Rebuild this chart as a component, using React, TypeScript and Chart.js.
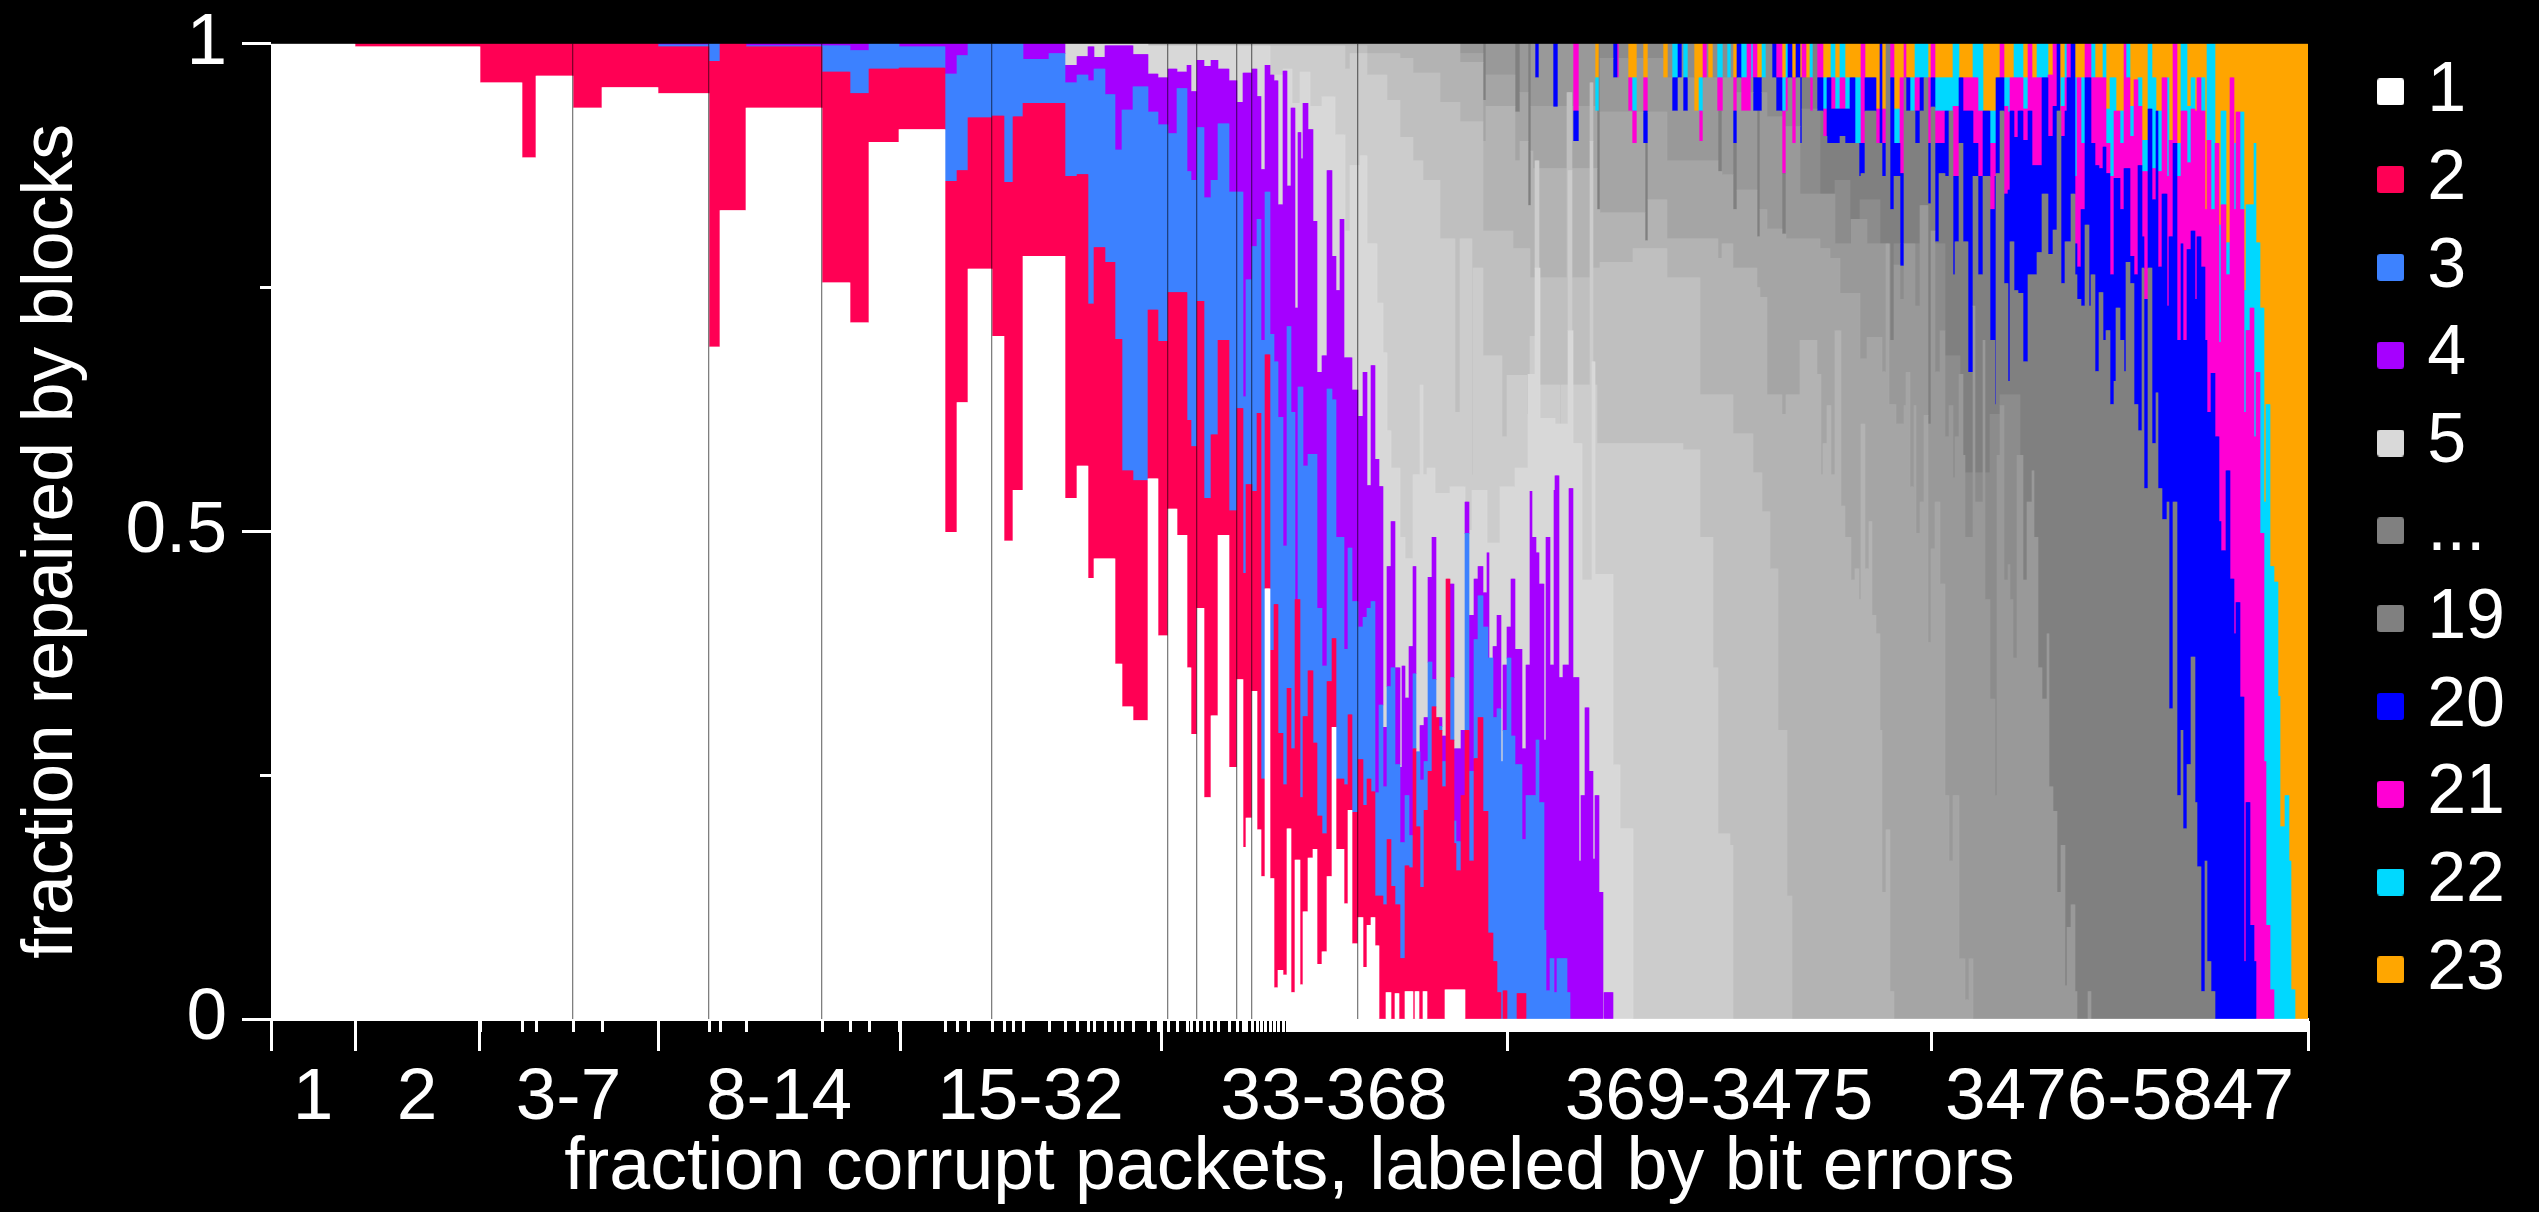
import React, { useEffect, useRef } from "react";
import { Chart, registerables } from "chart.js";

Chart.register(...registerables);

// Each list below is a boundary of the stack, read from the picture as run pairs:
// column where the run ends, height of the boundary in thousandths of the y axis.
const top1 = [355,1000,480,997,522,960,536,883,573,967,602,934,658,955,709,949,720,689,746,829,822,934,850,755,869,714,899,899,945,912,957,499,968,632,992,769,1004,700,1013,490,1023,542,1065,782,1077,534,1088,567,1094,452,1115,472,1122,364,1133,320,1148,306,1158,554,1168,393,1177,523,1187,496,1191,360,1197,292,1204,421,1211,227,1218,311,1229,496,1237,258,1243,348,1246,176,1252,206,1257,336,1261,194,1265,146,1270,441,1274,144,1278,32,1283,50,1287,45,1291,195,1295,27,1300,163,1303,35,1308,110,1313,165,1317,174,1322,56,1327,69,1332,146,1336,299,1344,174,1348,118,1352,214,1358,77,1363,104,1367,53,1371,96,1375,104,1379,75,1386,0,1391,27,1395,0,1399,26,1405,0,1413,28,1415,0,1419,28,1423,0,1427,28,1445,0,1465,30,2308,0];
const top2 = [658,1000,709,997,720,982,746,1000,822,997,850,971,869,949,899,974,945,975,957,859,968,870,992,924,1004,926,1013,858,1023,925,1065,939,1077,864,1088,866,1094,733,1105,791,1115,776,1122,697,1133,562,1148,552,1158,727,1168,695,1187,745,1191,614,1197,587,1204,736,1211,534,1218,599,1229,696,1237,521,1243,626,1246,457,1252,548,1257,541,1261,621,1265,246,1270,681,1274,378,1278,425,1283,293,1287,240,1291,339,1295,277,1300,430,1303,227,1308,310,1313,357,1317,283,1322,208,1327,190,1332,346,1336,390,1344,246,1348,240,1352,312,1358,212,1363,266,1367,219,1371,246,1375,233,1383,126,1387,117,1391,184,1395,136,1400,117,1405,62,1409,157,1413,155,1416,277,1420,197,1424,135,1428,214,1432,254,1436,320,1439,309,1442,296,1446,238,1450,451,1454,286,1456,180,1461,152,1465,229,1469,296,1474,162,1478,267,1483,309,1488,213,1493,88,1497,59,1501,27,1503,0,1507,29,1517,0,1526,26,2308,0];
const top3 = [658,1000,709,999,720,1000,850,998,869,993,899,1000,945,997,957,969,968,988,1023,1000,1049,984,1065,990,1077,960,1088,968,1094,962,1105,974,1115,948,1122,891,1133,932,1148,956,1158,930,1168,917,1177,908,1187,954,1191,869,1197,860,1204,914,1211,842,1218,860,1229,918,1237,848,1243,848,1246,638,1252,758,1257,792,1261,820,1265,696,1270,848,1274,702,1278,674,1283,617,1287,485,1291,710,1295,622,1298,395,1303,648,1308,567,1317,579,1322,421,1327,362,1332,646,1336,635,1344,494,1348,379,1352,483,1358,428,1363,402,1367,412,1371,421,1375,428,1379,232,1383,322,1387,238,1391,341,1395,360,1400,261,1405,181,1409,229,1413,188,1416,354,1420,274,1424,245,1428,264,1432,366,1436,348,1442,300,1446,264,1450,451,1454,350,1456,203,1461,182,1465,229,1469,498,1474,254,1478,389,1483,434,1488,402,1493,370,1497,309,1501,318,1503,264,1507,296,1511,370,1515,290,1522,261,1526,184,1536,229,1539,286,1544,222,1546,91,1550,29,1554,62,1557,27,1567,62,1570,27,2308,0];
const top4 = [992,1000,1004,988,1065,1000,1077,978,1088,987,1094,997,1105,986,1133,998,1148,989,1158,969,1168,965,1177,974,1187,971,1191,978,1197,951,1204,983,1211,977,1218,983,1229,974,1237,962,1243,940,1252,970,1257,974,1261,946,1265,871,1270,978,1274,968,1278,962,1283,835,1287,972,1291,854,1295,934,1298,729,1301,909,1303,882,1308,939,1313,912,1317,818,1322,663,1327,680,1332,870,1336,782,1340,747,1344,820,1352,678,1358,645,1363,618,1367,663,1371,547,1375,670,1379,574,1383,546,1387,299,1391,464,1395,510,1400,360,1402,258,1405,362,1409,329,1413,382,1416,464,1420,264,1424,301,1428,309,1432,453,1436,494,1442,309,1446,290,1450,451,1454,446,1461,277,1465,296,1469,530,1474,414,1478,451,1483,464,1487,437,1489,478,1493,370,1497,382,1501,414,1503,264,1507,363,1511,402,1515,451,1522,379,1526,277,1530,363,1532,541,1536,494,1539,478,1544,446,1546,286,1550,494,1554,363,1555,542,1559,557,1563,350,1569,363,1573,544,1579,350,1581,162,1585,229,1589,319,1593,254,1595,164,1599,229,1603,130,1604,0,1613,27,2308,0];
const top5 = [1148,1000,1270,998,1283,968,1292,974,1300,939,1310,971,1322,936,1335,946,1345,907,1350,808,1360,875,1367,885,1377,795,1383,734,1387,683,1391,603,1400,565,1405,494,1413,472,1420,558,1423,650,1427,558,1435,565,1450,539,1465,546,1472,501,1487,542,1500,488,1515,546,1528,565,1535,661,1540,770,1555,616,1568,610,1573,706,1582,590,1592,450,1595,674,1613,456,1620,261,1633,195,2308,0];
const top7 = [1345,998,1350,974,1367,990,1387,968,1400,942,1413,904,1423,880,1440,860,1455,800,1460,622,1472,800,1473,558,1483,770,1502,680,1507,597,1527,660,1530,620,1535,700,1539,880,1540,700,1560,650,1561,603,1568,650,1572,870,1590,650,1593,900,1597,650,1627,590,1683,590,1700,584,1713,494,1718,360,1730,190,1733,178,2308,0];
const top9 = [1367,998,1400,990,1413,985,1440,970,1460,940,1483,920,1513,808,1530,790,1567,760,1572,950,1590,760,1593,960,1600,770,1633,776,1667,790,1700,760,1733,640,1753,600,1762,560,1770,520,1778,462,1787,296,1792,126,2308,0];
const top11 = [1460,1000,1483,981,1486,900,1515,936,1520,880,1528,900,1531,834,1533,890,1597,872,1600,830,1645,827,1648,798,1667,840,1718,800,1722,780,1733,795,1737,770,1757,770,1760,750,1767,740,1782,640,1786,620,1800,640,1817,696,1821,661,1823,558,1827,590,1831,629,1835,558,1841,706,1845,526,1851,494,1855,450,1859,462,1861,430,1865,610,1869,462,1872,510,1876,414,1880,395,1882,296,1886,130,1890,194,1894,28,2308,0];
const top13 = [1460,1000,1483,990,1486,942,1515,968,1520,930,1528,950,1531,834,1597,936,1600,830,1645,930,1648,798,1667,930,1718,880,1722,869,1733,866,1737,830,1757,850,1760,802,1767,830,1782,810,1786,805,1800,800,1820,800,1830,790,1840,780,1860,744,1867,677,1882,699,1886,664,1889,795,1896,630,1904,610,1906,629,1910,663,1914,546,1916,629,1920,498,1924,530,1928,619,1931,386,1935,482,1940,530,1945,446,1949,229,1953,162,1959,229,1965,62,1969,20,1973,62,2308,0];
const top15 = [1483,1000,1486,942,1515,1000,1520,930,1528,1000,1531,834,1597,1000,1600,830,1645,985,1648,798,1667,985,1718,965,1722,869,1733,965,1737,830,1757,950,1760,802,1767,950,1782,925,1786,805,1800,915,1835,846,1851,795,1867,820,1890,795,1894,696,1900,773,1904,738,1915,795,1920,731,1928,834,1931,610,1935,808,1940,664,1945,706,1949,597,1953,629,1955,555,1959,597,1963,661,1965,578,1973,494,1975,731,1983,530,1985,696,1990,430,1995,328,1997,229,2000,578,2004,629,2008,450,2010,466,2013,430,2017,370,2023,578,2027,450,2032,530,2034,562,2038,494,2042,360,2047,328,2049,395,2053,238,2057,213,2061,130,2065,178,2067,34,2071,94,2075,117,2077,28,2088,0,2091,28,2308,0];
const top17 = [1483,1000,1486,942,1515,1000,1520,930,1528,1000,1531,834,1597,1000,1600,830,1645,1000,1648,798,1718,1000,1722,869,1733,1000,1737,830,1757,1000,1760,802,1782,1000,1786,805,1800,1000,1820,933,1835,840,1850,860,1860,795,1880,840,1890,795,1894,696,1920,795,1928,834,1931,610,1935,808,1945,795,1960,680,1990,560,2000,620,2020,640,2308,0];
const top19 = [1535,1000,1539,965,1553,1000,1558,935,1573,1000,1579,900,1595,1000,1599,931,1613,1000,1617,965,1619,965,1628,1000,1632,931,1637,898,1643,1000,1648,898,1663,1000,1668,965,1672,1000,1678,931,1682,965,1683,1000,1688,931,1694,1000,1699,931,1703,900,1707,965,1708,1000,1713,965,1717,1000,1723,931,1727,1000,1731,965,1733,1000,1737,898,1741,965,1747,931,1751,931,1753,965,1757,931,1762,931,1766,965,1772,1000,1776,965,1782,931,1786,867,1788,931,1792,965,1796,898,1800,965,1802,898,1806,965,1810,965,1813,931,1817,1000,1823,931,1827,905,1831,898,1835,898,1840,898,1845,905,1850,898,1855,898,1859,898,1861,864,1865,867,1876,931,1880,898,1882,898,1886,864,1890,1000,1894,830,1900,864,1904,772,1906,965,1910,931,1915,931,1920,898,1924,931,1928,965,1931,836,1935,935,1939,797,1945,867,1949,864,1953,931,1955,763,1959,797,1963,898,1968,797,1973,663,1978,864,1983,763,1985,864,1990,864,1995,696,1996,630,2000,867,2004,931,2008,754,2010,654,2014,797,2018,747,2023,744,2028,674,2032,763,2037,763,2042,786,2048,846,2053,784,2057,809,2061,931,2065,754,2067,797,2071,797,2075,846,2077,763,2081,738,2085,731,2089,814,2091,731,2095,763,2099,664,2103,745,2106,696,2110,706,2114,630,2116,654,2120,729,2124,696,2126,664,2130,776,2134,754,2138,630,2142,603,2144,770,2148,544,2152,770,2156,590,2158,642,2162,544,2167,512,2169,530,2173,318,2177,530,2181,229,2183,296,2187,195,2191,261,2195,371,2197,222,2201,156,2205,28,2207,162,2211,59,2215,28,2308,0];
const top20 = [1535,0,1539,1000,1553,0,1558,1000,1573,0,1579,931,1613,0,1617,1000,1619,965,1643,0,1648,931,1672,0,1678,965,1682,1000,1683,0,1688,965,1733,0,1737,931,1741,1000,1753,0,1757,965,1762,965,1772,0,1776,1000,1782,965,1788,0,1792,1000,1796,0,1800,1000,1802,965,1817,0,1823,965,1827,0,1831,965,1835,933,1840,933,1845,933,1850,933,1855,965,1859,0,1861,898,1865,898,1876,965,1880,0,1882,1000,1886,898,1890,0,1894,965,1900,898,1904,867,1906,0,1910,965,1915,0,1920,931,1924,965,1928,0,1931,898,1935,965,1939,898,1945,898,1949,931,1953,0,1955,864,1959,864,1963,965,1968,931,1973,931,1978,898,1983,864,1985,931,1990,931,1995,830,1996,864,2000,965,2004,965,2008,846,2010,850,2014,931,2018,904,2023,931,2028,901,2032,931,2037,875,2042,875,2048,965,2053,905,2057,936,2060,1000,2061,0,2065,905,2067,931,2071,965,2075,1000,2077,795,2081,771,2085,830,2089,965,2091,965,2095,898,2099,875,2103,872,2106,894,2110,867,2114,763,2116,862,2120,862,2124,830,2126,872,2130,872,2134,782,2138,763,2142,875,2144,802,2148,738,2152,933,2156,840,2158,931,2162,771,2167,846,2169,731,2173,802,2177,898,2181,696,2183,795,2187,696,2191,789,2195,808,2197,738,2201,802,2205,771,2207,696,2211,622,2215,662,2219,597,2221,510,2226,480,2230,562,2234,451,2236,395,2240,427,2244,330,2246,59,2250,222,2254,96,2256,59,2308,0];
const top21 = [1573,0,1579,1000,1617,0,1619,1000,1628,0,1632,965,1637,931,1643,0,1648,965,1699,0,1703,931,1707,1000,1717,0,1723,965,1733,0,1737,965,1741,0,1747,965,1751,1000,1753,0,1757,1000,1776,0,1782,1000,1786,931,1788,965,1792,0,1796,965,1802,0,1806,1000,1810,0,1813,965,1817,0,1823,1000,1827,933,1831,0,1835,965,1840,933,1845,965,1850,933,1861,0,1865,1000,1876,0,1880,933,1882,0,1886,933,1890,0,1894,1000,1900,898,1904,965,1906,1000,1915,0,1920,965,1928,0,1931,965,1935,1000,1939,931,1945,931,1949,931,1953,0,1959,936,1963,0,1968,965,1973,965,1978,965,1983,931,1990,931,1995,898,1996,898,2000,0,2004,1000,2008,936,2010,930,2014,965,2018,965,2023,965,2028,933,2032,1000,2037,965,2042,965,2048,965,2053,968,2057,1000,2061,0,2065,936,2067,965,2071,1000,2075,0,2077,864,2081,965,2085,898,2089,1000,2091,1000,2095,965,2099,965,2103,965,2106,965,2110,898,2114,864,2116,931,2120,931,2124,898,2126,1000,2130,965,2134,905,2138,963,2142,936,2144,869,2148,869,2152,933,2156,872,2158,931,2162,869,2167,965,2169,864,2173,901,2177,1000,2181,864,2183,931,2187,931,2191,878,2195,933,2197,931,2201,965,2205,931,2207,830,2211,901,2215,830,2219,898,2221,694,2226,835,2230,763,2234,965,2236,830,2240,930,2244,830,2246,622,2250,706,2254,729,2256,597,2260,663,2264,498,2266,264,2270,96,2274,30,2308,0];
const top22 = [1595,0,1599,965,1632,0,1637,965,1663,0,1668,965,1672,0,1678,1000,1683,0,1688,1000,1694,0,1699,931,1703,965,1708,0,1713,965,1717,0,1723,1000,1727,0,1731,1000,1733,0,1737,965,1741,0,1747,1000,1751,0,1753,1000,1757,0,1762,965,1766,1000,1782,0,1786,965,1788,1000,1792,0,1796,965,1806,0,1810,965,1813,1000,1823,0,1827,965,1831,965,1835,1000,1840,965,1845,1000,1850,965,1855,965,1859,965,1861,965,1865,0,1876,965,1880,933,1882,0,1886,933,1894,0,1900,933,1904,965,1906,0,1910,965,1915,965,1920,1000,1924,1000,1928,1000,1931,965,1935,0,1939,965,1945,965,1949,965,1953,965,1959,1000,1963,965,1968,965,1973,965,1978,1000,1983,1000,1985,931,1990,931,1995,931,1996,931,2000,965,2004,0,2008,965,2010,965,2014,965,2018,1000,2023,1000,2028,965,2032,0,2037,965,2042,1000,2048,1000,2053,968,2061,0,2065,965,2067,1000,2075,0,2077,965,2081,965,2085,965,2091,0,2095,1000,2099,965,2103,965,2106,1000,2110,933,2114,965,2116,965,2120,931,2124,931,2126,0,2130,1000,2134,936,2138,963,2142,965,2144,901,2148,901,2152,1000,2156,965,2158,931,2162,931,2167,965,2169,965,2173,901,2177,0,2181,898,2183,1000,2187,1000,2191,936,2195,965,2197,931,2201,965,2205,965,2207,830,2211,1000,2215,1000,2219,898,2221,814,2226,931,2230,796,2234,965,2236,898,2240,930,2244,930,2246,747,2250,835,2254,835,2256,898,2260,796,2264,729,2266,530,2270,630,2274,464,2278,448,2280,331,2285,197,2289,229,2291,162,2295,30,2308,0];
const top23 = [2308,1000];

const seriesLabels = ["1","2","3","4","5","7","9","11","13","15","17","19","20","21","22","23"];
const seriesColors = ["#ffffff","#ff0055","#3d82ff","#a600ff","#d9d9d9","#cccccc","#bfbfbf","#b3b3b3","#a6a6a6","#999999","#8c8c8c","#808080","#0000ff","#ff00d4","#00d9ff","#ffa600"];
const legendTexts = ["1","2","3","4","5","...","19","20","21","22","23"];
const legendColors = ["#ffffff","#ff0055","#3d82ff","#a600ff","#d9d9d9","#808080","#808080","#0000ff","#ff00d4","#00d9ff","#ffa600"];

const majorTicks = [271,355,479,658,900,1161,1507,1931,2308];
const groupLabels = ["1","2","3-7","8-14","15-32","33-368","369-3475","3476-5847"];
const groupBoundaries = [573,709,822,992,1168,1197,1237,1252,1358];
const yLabelTicks = [0,0.5,1];
const yMinorTicks = [0.25,0.75];

const FONT = "'Liberation Sans', Arial, sans-serif";
const WHITE = "#ffffff";

const curves = [top1,top2,top3,top4,top5,top7,top9,top11,top13,top15,top17,top19,top20,top21,top22,top23];
const FIRST = 271, LAST = 2308;
const DENSE_TICKS_FROM = 1290;

function decode(runs: number[]): number[] {
  const out: number[] = [];
  let r = 0;
  for (let c = FIRST; c < LAST; c++) {
    while (r + 2 < runs.length && c >= runs[r]) r += 2;
    out.push(runs[r + 1]);
  }
  return out;
}

function buildValues(): (number | null)[][] {
  const d = curves.map(decode);
  const iGrayTop = 11;
  const n = d[0].length;
  for (let c = 0; c < n; c++) {
    for (let i = 1; i < iGrayTop; i++) d[i][c] = Math.max(d[i][c], d[i - 1][c]);
    for (let i = 0; i < iGrayTop; i++) d[i][c] = Math.min(d[i][c], d[iGrayTop][c]);
    for (let i = iGrayTop + 1; i < d.length; i++) d[i][c] = Math.max(d[i][c], d[i - 1][c]);
  }
  return d.map((tops, i) =>
    tops.map((t, c) => {
      const v = i === 0 ? t : t - d[i - 1][c];
      return v > 0 ? v / 1000 : null;
    })
  );
}

function swatch(color: string): HTMLCanvasElement {
  const cv = document.createElement("canvas");
  cv.width = 27; cv.height = 27;
  const g = cv.getContext("2d")!;
  g.fillStyle = color;
  g.beginPath();
  g.roundRect(0, 0, 27, 27, 3);
  g.fill();
  return cv;
}

const fixedTicks = (list: number[]) => (scale: any) => {
  scale.ticks = list.map((value) => ({ value }));
};

export default function App() {
  const ref = useRef<HTMLCanvasElement>(null);
  useEffect(() => {
    const values = buildValues();
    const columns: number[] = [];
    for (let c = FIRST; c < LAST; c++) columns.push(c);
    const edgeSet = new Set(curves.flatMap((r) => r.filter((_, i) => i % 2 === 0)));
    for (let x = DENSE_TICKS_FROM; x < LAST; x += 3) edgeSet.add(x);
    const edges = Array.from(edgeSet).filter((x) => x < LAST).sort((a, b) => a - b);
    const mids = majorTicks.slice(1).map((m, i) => (m + majorTicks[i]) / 2);
    const swatches = legendColors.map(swatch);
    const linearX = { type: "linear", axis: "x", min: FIRST, max: LAST, offset: false };
    const tickFont = { family: FONT, size: 73 };
    const RIGHT_PAD = 24;

    const shift = {
      id: "shift",
      afterLayout(chart: any) {
        chart.scales.yTitle.top += 10;
        chart.scales.yTitle.bottom += 10;
        chart.legend.top -= 3;
      },
    };

    const chart = new Chart(ref.current!, {
      type: "bar",
      data: {
        labels: columns,
        datasets: seriesLabels.map((label, i) => ({
          label,
          data: values[i],
          backgroundColor: seriesColors[i],
          borderWidth: 0,
          barPercentage: 1,
          categoryPercentage: 1,
          xAxisID: "x",
          yAxisID: "y",
        })),
      },
      plugins: [shift],
      options: {
        responsive: false,
        animation: false,
        events: [],
        layout: { padding: { top: 42, right: RIGHT_PAD, left: 0, bottom: 0 } },
        plugins: {
          tooltip: { enabled: false },
          title: { display: false },
          legend: {
            position: "right",
            align: "start",
            labels: {
              color: WHITE,
              font: { family: FONT, size: 70, lineHeight: 1 },
              padding: 17.8,
              boxHeight: 3,
              boxWidth: 3,
              usePointStyle: true,
              generateLabels: () =>
                legendTexts.map((text, i) => ({
                  text,
                  fontColor: WHITE,
                  fillStyle: legendColors[i],
                  strokeStyle: legendColors[i],
                  lineWidth: 0,
                  pointStyle: swatches[i],
                  hidden: false,
                  datasetIndex: 0,
                })),
            },
          },
        },
        scales: {
          x: { type: "category", stacked: true, display: false },
          y: {
            type: "linear", axis: "y", stacked: true, min: 0, max: 1,
            position: { xMajor: FIRST },
            afterBuildTicks: fixedTicks(yLabelTicks),
            ticks: { display: false, autoSkip: false },
            grid: { drawOnChartArea: false, color: WHITE, tickColor: WHITE, tickLength: 29, tickWidth: 3 },
            border: { display: false },
          },
          yMinor: {
            type: "linear", axis: "y", min: 0, max: 1,
            position: { xMajor: FIRST },
            afterBuildTicks: fixedTicks(yMinorTicks),
            ticks: { display: false, autoSkip: false },
            grid: { drawOnChartArea: false, color: WHITE, tickColor: WHITE, tickLength: 11, tickWidth: 3 },
            border: { display: false },
          },
          yText: {
            type: "linear", axis: "y", min: 0, max: 1,
            position: { xMajor: 227 },
            afterBuildTicks: fixedTicks(yLabelTicks),
            ticks: { color: WHITE, font: tickFont, autoSkip: false, padding: 0, callback: (v: number) => String(v) },
            grid: { display: false },
            border: { display: false },
          },
          yTitle: {
            type: "linear", axis: "y", position: "left",
            afterFit: (s: any) => { s.width = FIRST; },
            ticks: { display: false },
            grid: { display: false },
            border: { display: false },
            title: {
              display: true, text: "fraction repaired by blocks", color: WHITE,
              font: { family: FONT, size: 71.5, lineHeight: 1 }, padding: { top: 17, bottom: 0 },
            },
          },
          yGap: {
            type: "linear", axis: "y", position: "right",
            afterFit: (s: any) => { s.width = 2539 - RIGHT_PAD - s.chart.legend.width - LAST; },
            ticks: { display: false },
            grid: { display: false },
            border: { display: false },
          },
          xEdge: {
            ...linearX,
            position: { y: 0 },
            afterBuildTicks: fixedTicks(edges),
            ticks: { display: false, autoSkip: false },
            grid: { offset: false, drawOnChartArea: false, color: WHITE, tickColor: WHITE, tickLength: 13, tickWidth: 3 },
            border: { display: false },
          },
          xMajor: {
            ...linearX,
            position: { y: 0 },
            afterBuildTicks: fixedTicks(majorTicks),
            ticks: { display: false, autoSkip: false },
            grid: { offset: false, drawOnChartArea: false, color: WHITE, tickColor: WHITE, tickLength: 30, tickWidth: 3 },
            border: { display: true, color: WHITE, width: 3 },
          },
          xText: {
            ...linearX,
            position: { y: 0 },
            afterBuildTicks: fixedTicks(mids),
            ticks: {
              color: WHITE, font: tickFont, autoSkip: false, maxRotation: 0, padding: 36,
              callback: (_: number, i: number) => groupLabels[i],
            },
            grid: { offset: false, display: false, drawTicks: false },
            border: { display: false },
          },
          xGroup: {
            ...linearX,
            position: { y: 0 },
            afterBuildTicks: fixedTicks(groupBoundaries),
            ticks: { display: false, autoSkip: false },
            grid: { offset: false, color: "rgba(0,0,0,0.5)", lineWidth: 1.3, drawTicks: false, z: 1 },
            border: { display: false },
          },
          xTitle: {
            ...linearX, position: "bottom",
            afterFit: (s: any) => { s.height = 193; },
            ticks: { display: false },
            grid: { display: false },
            border: { display: false },
            title: {
              display: true, text: "fraction corrupt packets, labeled by bit errors", color: WHITE,
              font: { family: FONT, size: 73.5, lineHeight: 1 }, padding: { top: 0, bottom: 7 },
            },
          },
        },
      } as any,
    });
    return () => chart.destroy();
  }, []);
  return (
    <div style={{ position: "fixed", inset: 0, background: "#000" }}>
      <canvas ref={ref} width={2539} height={1212} style={{ display: "block" }} />
    </div>
  );
}
